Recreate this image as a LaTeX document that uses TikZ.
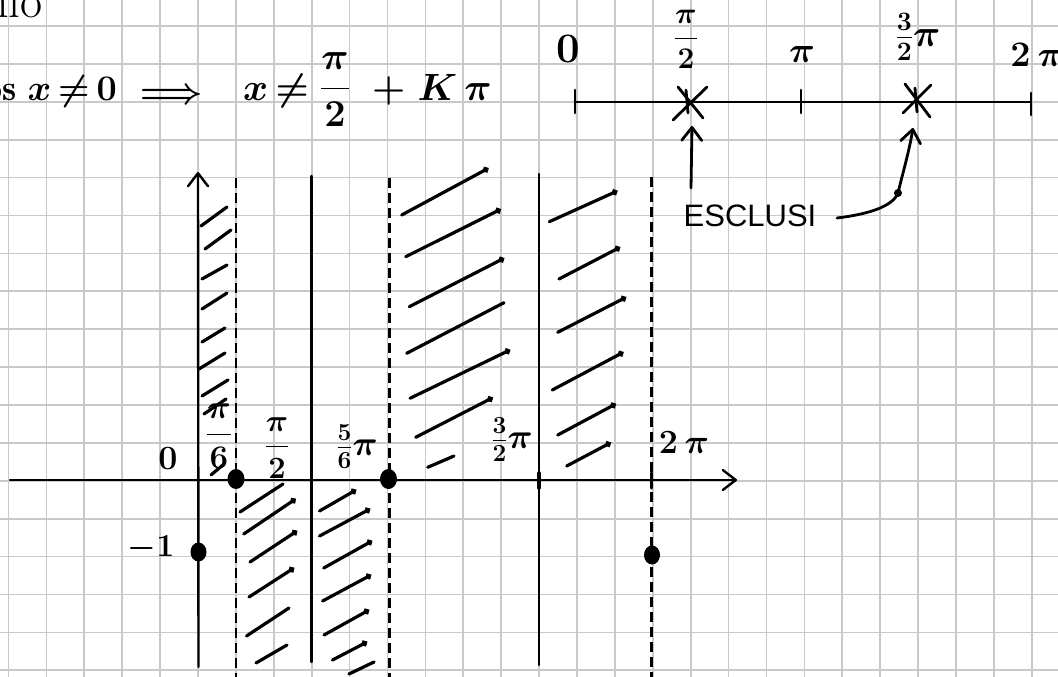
\RequirePackage{fix-cm}
\documentclass[tikz,border=0pt]{standalone}
\usepackage{amsmath}
\usepackage{fontspec}
\usetikzlibrary{arrows.meta}
\newfontfamily\handsans{Liberation Sans}
\begin{document}
\begin{tikzpicture}[x=1pt,y=-1pt,
  gridline/.style={draw=black!21, line width=1.7pt},
  pen/.style={line width=2.8pt, line cap=round, line join=round},
  axisline/.style={line width=2.4pt, line cap=round},
  dashedline/.style={line width=2.2pt, dash pattern=on 10pt off 5pt},
  hatch/.style={line width=3.2pt, line cap=round},
  hatchdot/.style={hatch, -{Circle[length=6pt]}},
  barb/.style={-{Straight Barb[length=13pt,width=20pt,round]}},
  lbl/.style={inner sep=0pt, font=\boldmath},
  dotfill/.style={fill=black, draw=none}
]
\useasboundingbox (0,0) rectangle (1058,677);
\clip (0,0) rectangle (1058,677);
\fill[white] (0,0) rectangle (1058,677);
% grid
\foreach \k in {0,...,27} \draw[gridline] ({8.5+37.9*\k},0) -- ({8.5+37.9*\k},677);
\foreach \k in {0,...,17} \draw[gridline] (0,{26+37.9*\k}) -- (1058,{26+37.9*\k});

% ---- top-left text ----
\node[lbl, anchor=base east] (dom) at (43,18) {\fontsize{48}{52}\selectfont Dominio};
\node[lbl, anchor=base east] (cos) at (17,100) {\fontsize{36}{40}\selectfont $\cos$};
\node[lbl, anchor=base east] (cosx) at (117,100) {\fontsize{36}{40}\selectfont $x\,{\neq}\,0$};
\node[lbl] (impl) at (172,96) {\fontsize{36}{40}\selectfont $\Longrightarrow$};
\node[lbl, anchor=base west] (xneq) at (243,100) {\fontsize{38}{42}\selectfont $x\,{\neq}$};
\node[lbl] (frac) at (335,90) {\fontsize{38}{42}\selectfont $\dfrac{\pi}{2}$};
\node[lbl, anchor=base west] (kpi) at (372,100) {\fontsize{38}{42}\selectfont ${+}\;K\,\pi$};

% ---- number line ----
\coordinate (nl) at (575,102);
\coordinate (nr) at (1031,102);
\draw[pen] (nl) -- (nr);
\draw[pen] (575,90) -- (575,113);
\draw[pen] (801,90) -- (801,113);
\draw[pen] (1031,93) -- (1031,115);
% crosses
\draw[pen] (678,87) -- (703,118);
\draw[pen] (673,120) -- (707,87);
\draw[pen] (686,90) -- (688,113);
\draw[pen] (905,84) -- (930,117);
\draw[pen] (903,113) -- (931,85);
\draw[pen] (915,88) -- (917,112);
\coordinate (c1) at (692,126);
\coordinate (c2) at (913,128);
\node[lbl] (n0) at (568,49) {\fontsize{42}{46}\selectfont $0$};
\node[lbl] (npi2) at (686,39) {\fontsize{30}{34}\selectfont $\dfrac{\pi}{2}$};
\node[lbl] (npi) at (802,55) {\fontsize{36}{40}\selectfont $\pi$};
\node[lbl] (n3pi2) at (918,37) {\fontsize{38}{42}\selectfont $\tfrac{3}{2}\pi$};
\node[lbl] (n2pi) at (1037,55) {\fontsize{36}{40}\selectfont $2\,\pi$};

% ESCLUSI and arrows
\node[lbl] (escl) at (750,216) {\handsans\fontsize{31}{34}\selectfont ESCLUSI};
\coordinate (a1s) at (691,188);
\draw[pen, barb] (a1s) -- (c1);
\coordinate (a2s) at (837,218);
\coordinate (a2m) at (898,193);
\draw[pen, barb] (a2s) .. controls (870,214) and (893,206) .. (a2m)
  .. controls (903,172) and (909,152) .. (c2);
\fill (a2m) circle (4pt);

% ---- axes ----
\coordinate (xl) at (10,480);
\coordinate (xr) at (737,480);
\draw[axisline, barb] (xl) -- (xr);
\coordinate (yb) at (198.5,667);
\coordinate (yt) at (198,172);
\draw[axisline, barb] (yb) -- (yt);

% vertical lines
\coordinate (p6t) at (236,178); \coordinate (p6b) at (236,677);
\draw[dashedline] (p6t) -- (p6b);
\coordinate (p2t) at (311.5,176); \coordinate (p2b) at (311.5,662);
\draw[axisline] (p2t) -- (p2b);
\coordinate (p56t) at (389.5,178); \coordinate (p56b) at (389.5,677);
\draw[dashedline] (p56t) -- (p56b);
\coordinate (p32t) at (539,174); \coordinate (p32b) at (539,665);
\draw[axisline] (p32t) -- (p32b);
\coordinate (p2pt) at (651.5,177); \coordinate (p2pb) at (651.5,677);
\draw[dashedline] (p2pt) -- (p2pb);

% axis ticks
\draw[pen, line width=3.5pt] (311.5,473) -- (311.5,488);
\draw[pen, line width=3.5pt] (539,473) -- (539,488);
\draw[pen, line width=3.5pt] (651.5,473) -- (651.5,488);

% dots
\fill[dotfill] (236,479) ellipse (8.5pt and 10pt);
\fill[dotfill] (388.5,479) ellipse (8.5pt and 10pt);
\fill[dotfill] (198.5,552) ellipse (8pt and 9.5pt);
\fill[dotfill] (652,555) ellipse (8pt and 9.5pt);

% axis labels
\node[lbl] (l0) at (168,459) {\fontsize{34}{38}\selectfont $0$};
\node[lbl] (lm1) at (151,548) {\fontsize{32}{36}\selectfont $-1$};
\node[lbl] (lpi6) at (219,436) {\fontsize{33}{37}\selectfont $\dfrac{\pi}{6}$};
\node[lbl] (lpi2) at (277,448) {\fontsize{31}{35}\selectfont $\dfrac{\pi}{2}$};
\node[lbl] (l5pi6) at (357,447) {\fontsize{35}{39}\selectfont $\tfrac{5}{6}\pi$};
\node[lbl] (l3pi2) at (512,440) {\fontsize{35}{39}\selectfont $\tfrac{3}{2}\pi$};
\node[lbl] (l2pi) at (684,443) {\fontsize{34}{38}\selectfont $2\,\pi$};

% ---- hatching ----
% region 1
\draw[hatch] (201,226) -- (227,207);
\draw[hatch] (205,249) -- (231,230);
\draw[hatch] (202,279) -- (227,265);
\draw[hatch] (202,309) -- (227,293);
\draw[hatch] (202,342) -- (225,328);
\draw[hatch] (199,369) -- (225,353);
\draw[hatch] (202,396) -- (228,380);
\draw[hatch] (204,414) -- (226,399);
\draw[hatch] (211,475) -- (224,464);
% region 4
\draw[hatchdot] (401.7,215) -- (488.3,168.3);
\draw[hatchdot] (405.7,256.7) -- (500.7,209.3);
\draw[hatchdot] (409.3,306.7) -- (504,258.3);
\draw[hatch] (406.7,353.3) -- (504,302.7);
\draw[hatchdot] (410,398.3) -- (510,350);
\draw[hatchdot] (415.7,437.3) -- (492.7,397.7);
\draw[hatch] (427.7,467.3) -- (454,456);
% region 5
\draw[hatchdot] (549.3,221.7) -- (617.3,191);
\draw[hatchdot] (559,279) -- (620,247.3);
\draw[hatchdot] (557.7,332.3) -- (626,297.3);
\draw[hatchdot] (552.3,390) -- (623.3,352.3);
\draw[hatchdot] (557.7,435) -- (615.7,404);
\draw[hatchdot] (566.7,466) -- (610.7,442.7);
% region 2
\draw[hatch] (240,512) -- (283,484);
\draw[hatchdot] (243.7,534) -- (295.6,499);
\draw[hatchdot] (250,562) -- (297,531);
\draw[hatchdot] (249,597) -- (294,568);
\draw[hatch] (246.5,636) -- (289,608);
\draw[hatch] (256,663) -- (287,645);
% region 3
\draw[hatchdot] (319.5,511) -- (356,490);
\draw[hatchdot] (319.5,536) -- (370,509);
\draw[hatchdot] (323.7,568) -- (372,541);
\draw[hatchdot] (322.6,601) -- (371,575);
\draw[hatchdot] (324,635) -- (369,610);
\draw[hatchdot] (332.5,660) -- (367,642);
\draw[hatch] (349,674) -- (374,662);
\end{tikzpicture}
\end{document}
